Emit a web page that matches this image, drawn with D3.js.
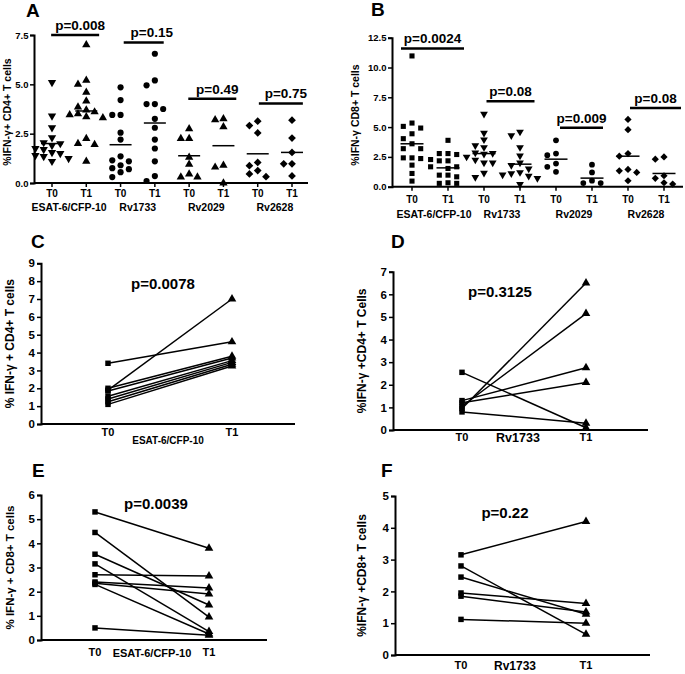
<!DOCTYPE html>
<html>
<head>
<meta charset="utf-8">
<script src="https://cdn.jsdelivr.net/npm/d3@7"></script>
<style>
  html, body { margin: 0; padding: 0; background: #fff; }
  svg { display: block; }
  text { font-family: 'Liberation Sans', Arial, sans-serif; font-weight: bold; fill: #000; }
</style>
</head>
<body>
<svg id="chart" width="685" height="674"></svg>
<script>
// ---------------- DATA ----------------
const antigens = ["ESAT-6/CFP-10", "Rv1733", "Rv2029", "Rv2628"];
const timepoints = ["T0", "T1"];
const categoriesAB = ["ESAT-6/CFP-10 T0", "ESAT-6/CFP-10 T1", "Rv1733 T0", "Rv1733 T1",
                      "Rv2029 T0", "Rv2029 T1", "Rv2628 T0", "Rv2628 T1"];

// Panel A: %IFN-γ+ CD4+ T cells
const aEsatT0 = [5.1, 3.4, 2.8, 2.3, 2.05, 2.0, 1.9, 1.75, 1.7, 1.55, 1.5, 1.4, 1.35, 1.25, 1.1];
const aEsatT1 = [7.0, 5.2, 5.0, 4.6, 4.15, 3.85, 3.7, 3.6, 3.5, 3.45, 3.35, 3.3, 2.25, 2.0, 1.95, 1.1];
const aRv1733T0 = [4.85, 4.2, 3.45, 3.45, 2.55, 2.2, 1.35, 1.15, 1.1, 0.9, 0.75, 0.7, 0.55, 0.3];
const aRv1733T1 = [6.55, 5.2, 4.95, 4.0, 4.0, 3.75, 3.25, 2.8, 2.2, 1.75, 1.1, 0.35, 0.1];
const aRv2029T0 = [2.75, 2.25, 2.25, 1.3, 0.95, 0.45, 0.3, 0.3];
const aRv2029T1 = [3.25, 3.2, 2.85, 0.9, 0.8, 0.0];
const aRv2628T0 = [3.13, 2.91, 2.54, 1.04, 0.88, 0.63, 0.46, 0.32];
const aRv2628T1 = [3.18, 2.28, 1.55, 0.97, 0.97, 0.36];
const aCenterLines = [2.0, 3.65, 1.94, 3.04, 1.38, 1.89, 1.48, 1.55];
const aPLabels = ["p=0.008", "p=0.15", "p=0.49", "p=0.75"];
const aPBarLevels = [7.5, 7.12, 4.27, 4.03];
const aTicks = [0, 2.5, 5.0, 7.5];

// Panel B: %IFN-γ CD8+ T cells
const bEsatT0 = [10.97, 5.34, 5.06, 4.92, 4.44, 4.03, 3.6, 3.19, 3.19, 2.42, 2.42, 2.36, 1.81, 1.11, 0.47];
const bEsatT1 = [3.89, 2.78, 2.78, 2.7, 2.28, 2.17, 2.17, 1.67, 1.67, 1.53, 0.97, 0.97, 0.83, 0.33, 0.28, 0.28];
const bRv1733T0 = [6.1, 4.5, 3.95, 3.45, 3.3, 2.85, 2.8, 2.75, 2.5, 2.25, 2.0, 2.0, 1.15, 0.8];
const bRv1733T1 = [4.6, 4.3, 3.3, 2.6, 2.0, 1.8, 1.5, 1.2, 1.1, 1.0, 0.9, 0.7, 0.2];
const bRv2029T0 = [3.89, 2.78, 2.64, 1.94, 1.67, 1.25];
const bRv2029T1 = [1.85, 1.2, 0.5, 0.3, 0.3];
const bRv2628T0 = [5.64, 4.78, 2.78, 2.56, 1.45, 1.33, 1.2, 0.5];
const bRv2628T1 = [2.5, 2.31, 0.92, 0.7, 0.33, 0.22];
const bCenterLines = [3.6, 1.58, 2.78, 1.89, 2.31, 0.72, 2.56, 1.11];
const bPLabels = ["p=0.0024", "p=0.08", "p=0.009", "p=0.08"];
const bPBarLevels = [11.6, 7.17, 4.95, 6.6];
const bTicks = [0, 2.5, 5.0, 7.5, 10.0, 12.5];

// Panel C: ESAT-6/CFP-10, CD4+ paired
const cT0 = [3.4, 1.9, 2.0, 1.85, 1.55, 1.4, 1.25, 1.1];
const cT1 = [4.6, 7.0, 3.8, 3.7, 3.55, 3.45, 3.35, 3.25];
// Panel D: Rv1733, CD4+ paired
const dT0 = [0.95, 1.05, 1.3, 1.2, 2.55, 0.8];
const dT1 = [6.5, 5.15, 2.75, 2.1, 0.1, 0.3];
// Panel E: ESAT-6/CFP-10, CD8+ paired
const eT0 = [5.3, 4.45, 3.55, 3.15, 2.7, 2.4, 2.35, 2.3, 0.5];
const eT1 = [3.8, 0.95, 1.45, 0.35, 2.65, 2.15, 1.9, 0.25, 0.2];
// Panel F: Rv1733, CD8+ paired
const fT0 = [3.15, 2.8, 2.45, 1.95, 1.85, 1.12];
const fT1 = [4.2, 0.65, 1.28, 1.62, 1.35, 1.0];

const aValues = [aEsatT0, aEsatT1, aRv1733T0, aRv1733T1, aRv2029T0, aRv2029T1, aRv2628T0, aRv2628T1];
const bValues = [bEsatT0, bEsatT1, bRv1733T0, bRv1733T1, bRv2029T0, bRv2029T1, bRv2628T0, bRv2628T1];

// ---------------- DRAWING ----------------
const svg = d3.select("#chart");

function symbolPath(shape, size) {
  const t = { tri: d3.symbolTriangle, itri: d3.symbolTriangle, circle: d3.symbolCircle,
              square: d3.symbolSquare, diamond: d3.symbolSquare }[shape];
  return d3.symbol(t, size)();
}
function symbolRot(shape) {
  return shape === "itri" ? 180 : shape === "diamond" ? 45 : 0;
}

function styleAxis(g, fontSize) {
  g.select(".domain").attr("stroke", "#000").attr("stroke-width", 2);
  g.selectAll(".tick line").attr("stroke", "#000").attr("stroke-width", 1.5);
  g.selectAll(".tick text").style("font-size", fontSize + "px")
    .style("font-family", "'Liberation Sans', Arial, sans-serif").style("font-weight", "bold");
}

function panelLetter(letter, x, y) {
  svg.append("text").attr("x", x).attr("y", y).text(letter).style("font-size", "19px");
}

function yLabel(text, x, yc, fs) {
  svg.append("text").attr("transform", `translate(${x},${yc}) rotate(-90)`)
    .attr("text-anchor", "middle").style("font-size", fs + "px").text(text);
}

// ---------- Scatter panels (A, B) ----------
function scatterPanel(cfg) {
  const y = d3.scaleLinear().domain(cfg.domain).range([cfg.y0, cfg.yTop]);
  const x = d3.scalePoint().domain(categoriesAB).range(cfg.xRange);

  const ga = svg.append("g").attr("transform", `translate(${cfg.axisX},0)`)
    .call(d3.axisLeft(y).tickValues(cfg.ticks).tickFormat(d3.format(".1f")).tickSizeOuter(0).tickSize(4).tickPadding(1.5));
  styleAxis(ga, 9.5);

  svg.append("line").attr("x1", cfg.axisX).attr("x2", cfg.xEnd).attr("y1", cfg.y0).attr("y2", cfg.y0)
    .attr("stroke", "#000").attr("stroke-width", 2);
  categoriesAB.forEach((c, i) => {
    svg.append("line").attr("x1", x(c)).attr("x2", x(c)).attr("y1", cfg.y0).attr("y2", cfg.y0 + 4)
      .attr("stroke", "#000").attr("stroke-width", 1.5);
    svg.append("text").attr("x", x(c)).attr("y", cfg.tpY).attr("text-anchor", "middle")
      .style("font-size", "10px").text(timepoints[i % 2]);
  });
  antigens.forEach((a, i) => {
    const cx = (x(categoriesAB[2 * i]) + x(categoriesAB[2 * i + 1])) / 2;
    svg.append("text").attr("x", cx + cfg.groupDx[i]).attr("y", cfg.groupY).attr("text-anchor", "middle")
      .style("font-size", "10.5px").text(a);
  });

  cfg.values.forEach((vals, gi) => {
    const cx = x(categoriesAB[gi]);
    const sorted = vals.slice().sort((p, q) => q - p);
    const placed = [];
    const slots = [0, -1, 1, -2, 2, -3, 3];
    sorted.forEach(v => {
      const py = y(v);
      let slot = slots.find(s => !placed.some(p => p.slot === s && Math.abs(p.py - py) < cfg.minGap));
      placed.push({ slot, py, v });
    });
    const shape = cfg.shapes[gi];
    svg.append("g").selectAll("path").data(placed).join("path")
      .attr("d", symbolPath(shape, cfg.symSize))
      .attr("transform", d => `translate(${cx + d.slot * cfg.slotW},${d.py}) rotate(${symbolRot(shape)})`)
      .attr("fill", "#000");
    svg.append("line").attr("x1", cx - cfg.lineHalf).attr("x2", cx + cfg.lineHalf)
      .attr("y1", y(cfg.centers[gi])).attr("y2", y(cfg.centers[gi]))
      .attr("stroke", "#000").attr("stroke-width", 1.5);
  });

  antigens.forEach((a, i) => {
    const mid = (x(categoriesAB[2 * i]) + x(categoriesAB[2 * i + 1])) / 2 + cfg.barDx[i];
    const by = y(cfg.pLevels[i]);
    svg.append("text").attr("x", mid + cfg.textDx[i]).attr("y", by - 5).attr("text-anchor", "middle")
      .style("font-size", cfg.pFont + "px").text(cfg.pLabels[i]);
    const hw = cfg.barHalf[i];
    svg.append("line").attr("x1", mid - hw).attr("x2", mid + hw).attr("y1", by).attr("y2", by)
      .attr("stroke", "#000").attr("stroke-width", 2.5);
  });
}

scatterPanel({
  values: aValues, centers: aCenterLines, pLabels: aPLabels, pLevels: aPBarLevels, ticks: aTicks,
  domain: [0, 7.5], y0: 183, yTop: 35, axisX: 34, xEnd: 308, xRange: [52, 292],
  tpY: 197, groupY: 211, groupDx: [0, 0, 0, 0],
  shapes: ["itri", "tri", "circle", "circle", "tri", "tri", "diamond", "diamond"],
  symSize: 30, slotW: 8.3, minGap: 6.5, lineHalf: 11,
  barDx: [6, 6, 6, 6], textDx: [5, 8, 5, 5], barHalf: [24, 20, 24, 22], pFont: 13.5
});

scatterPanel({
  values: bValues, centers: bCenterLines, pLabels: bPLabels, pLevels: bPBarLevels, ticks: bTicks,
  domain: [0, 12.5], y0: 186.7, yTop: 37.7, axisX: 392, xEnd: 683, xRange: [412, 664],
  tpY: 203, groupY: 218, groupDx: [4, 0, 0, 0],
  shapes: ["square", "square", "itri", "itri", "circle", "circle", "diamond", "diamond"],
  symSize: 26, slotW: 8.7, minGap: 6, lineHalf: 11.5,
  barDx: [2.5, 8.5, 7.5, 9.5], textDx: [0, 0, 0, 0], barHalf: [31.5, 24, 21.5, 25.5], pFont: 13.5
});

panelLetter("A", 26, 17);
panelLetter("B", 371, 16);
yLabel("%IFN-\u03b3+ CD4+ T cells", 11, 112, 10.5);
yLabel("%IFN-\u03b3 CD8+ T cells", 359, 115, 10.5);

// ---------- Paired panels (C-F) ----------
function pairedPanel(cfg) {
  const y = d3.scaleLinear().domain([0, cfg.max]).range([cfg.y0, cfg.yTop]);
  const x = d3.scalePoint().domain(timepoints).range([cfg.xT0, cfg.xT1]);

  const ga = svg.append("g").attr("transform", `translate(${cfg.axisX},0)`)
    .call(d3.axisLeft(y).ticks(cfg.max).tickFormat(d3.format("d")).tickSizeOuter(0).tickSize(4).tickPadding(2));
  styleAxis(ga, 11.5);

  svg.append("line").attr("x1", cfg.axisX).attr("x2", cfg.xEnd).attr("y1", cfg.y0).attr("y2", cfg.y0)
    .attr("stroke", "#000").attr("stroke-width", 2);
  timepoints.forEach(t => {
    svg.append("text").attr("x", x(t)).attr("y", cfg.tpY).attr("text-anchor", "middle")
      .style("font-size", "11px").text(t);
  });
  svg.append("text").attr("x", cfg.antX).attr("y", cfg.antY).attr("text-anchor", "middle")
    .style("font-size", cfg.antFont + "px").text(cfg.antigen);

  const pairs = cfg.t0.map((v, i) => [v, cfg.t1[i]]);
  const line = d3.line().x((d, i) => x(timepoints[i])).y(d => y(d));
  svg.append("g").selectAll("path").data(pairs).join("path")
    .attr("d", line).attr("fill", "none").attr("stroke", "#000").attr("stroke-width", 1.5);

  svg.append("g").selectAll("path").data(cfg.t0).join("path")
    .attr("d", symbolPath("square", 30))
    .attr("transform", d => `translate(${x("T0")},${y(d)})`).attr("fill", "#000");
  svg.append("g").selectAll("path").data(cfg.t1).join("path")
    .attr("d", symbolPath("tri", 32))
    .attr("transform", d => `translate(${x("T1")},${y(d)})`).attr("fill", "#000");

  svg.append("text").attr("x", cfg.pX).attr("y", cfg.pY).attr("text-anchor", "middle")
    .style("font-size", "15px").text(cfg.p);

  panelLetter(cfg.letter, cfg.letterX, cfg.letterY);
  yLabel(cfg.ylab, cfg.ylabX, (cfg.y0 + cfg.yTop) / 2, cfg.ylabFont);
}

pairedPanel({
  letter: "C", letterX: 31, letterY: 248, t0: cT0, t1: cT1, max: 9,
  y0: 424, yTop: 263.3, axisX: 41, xEnd: 295, xT0: 108, xT1: 232,
  tpY: 436, antigen: "ESAT-6/CFP-10", antX: 168, antY: 444, antFont: 10,
  p: "p=0.0078", pX: 163, pY: 289, ylab: "% IFN-\u03b3 + CD4+ T cells", ylabX: 14, ylabFont: 12
});
pairedPanel({
  letter: "D", letterX: 391, letterY: 248, t0: dT0, t1: dT1, max: 7,
  y0: 430, yTop: 271.7, axisX: 393, xEnd: 648, xT0: 462, xT1: 586,
  tpY: 441, antigen: "Rv1733", antX: 518, antY: 442, antFont: 12.5,
  p: "p=0.3125", pX: 500, pY: 297, ylab: "%IFN-\u03b3 +CD4+ T Cells", ylabX: 366, ylabFont: 12
});
pairedPanel({
  letter: "E", letterX: 32, letterY: 477, t0: eT0, t1: eT1, max: 6,
  y0: 640, yTop: 495, axisX: 41, xEnd: 267, xT0: 95, xT1: 209,
  tpY: 656, antigen: "ESAT-6/CFP-10", antX: 152, antY: 657, antFont: 11,
  p: "p=0.0039", pX: 156, pY: 509, ylab: "% IFN-\u03b3 + CD8+ T cells", ylabX: 14, ylabFont: 11.5
});
pairedPanel({
  letter: "F", letterX: 381, letterY: 477, t0: fT0, t1: fT1, max: 5,
  y0: 655, yTop: 496, axisX: 395, xEnd: 650, xT0: 461, xT1: 586,
  tpY: 669, antigen: "Rv1733", antX: 515, antY: 670, antFont: 12,
  p: "p=0.22", pX: 505, pY: 518, ylab: "%IFN-\u03b3 +CD8+ T cells", ylabX: 366, ylabFont: 12
});
</script>
</body>
</html>
